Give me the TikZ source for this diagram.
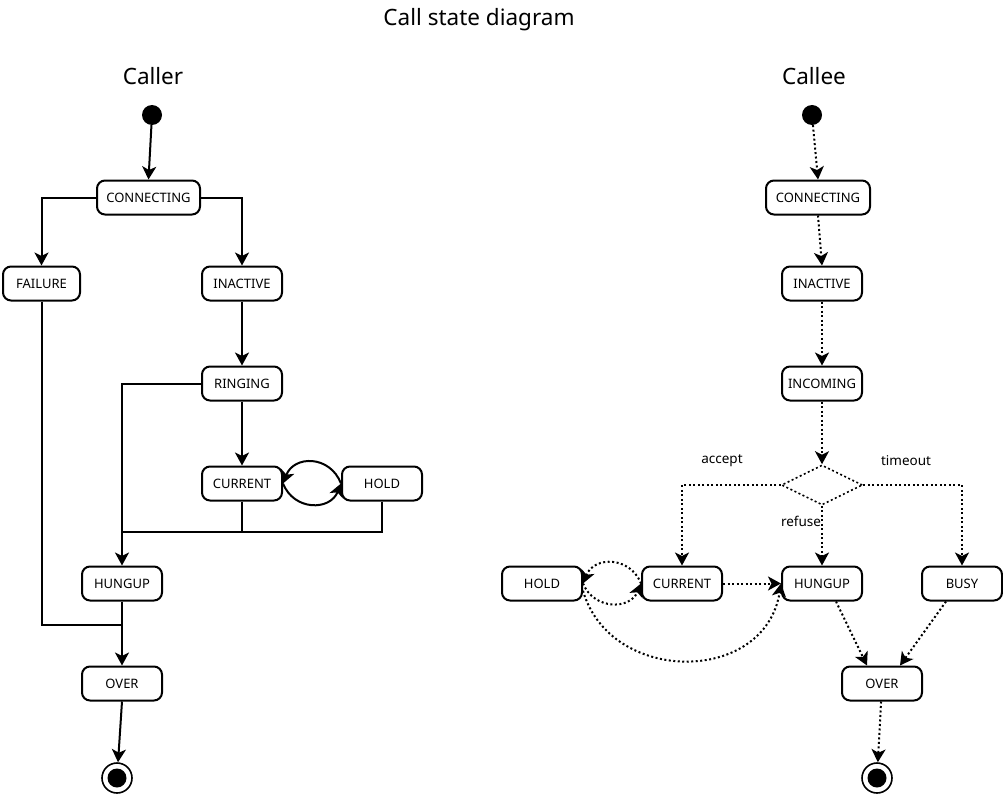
\documentclass[tikz,border=0pt]{standalone}
\usepackage{fontspec}
\setmainfont{Noto Sans}
\usetikzlibrary{arrows.meta,shapes.geometric,calc}
\begin{document}
\begin{tikzpicture}[x=1pt,y=-1pt,
  state/.style={draw, line width=2pt, rounded corners=8pt, minimum width=80pt, minimum height=34pt, inner sep=0pt, font=\fontsize{13}{15}\selectfont},
  startdot/.style={circle, fill=black, minimum size=20pt, inner sep=0pt},
  endring/.style={circle, draw, line width=1.6pt, minimum size=30pt, inner sep=0pt},
  enddot/.style={circle, fill=black, minimum size=19pt, inner sep=0pt},
  line/.style={line width=2pt},
  edge/.style={line width=2pt, -{Stealth[length=13pt,width=14pt,inset=3.5pt]}},
  dotline/.style={line width=2pt, dash pattern=on 2pt off 2.5pt},
  dedge/.style={dotline, -{Stealth[length=13pt,width=14pt,inset=3.5pt]}},
  lbl/.style={font=\fontsize{13.5}{15}\selectfont, inner sep=0pt},
  head/.style={anchor=base, inner sep=0pt}
]
\useasboundingbox (0,0) rectangle (1003,797);
\node[head, font=\fontsize{22.5}{26}\selectfont] (title) at (479,26) {Call state diagram};
\node[head, font=\fontsize{22.5}{26}\selectfont] (caller) at (153,85) {Caller};
\node[head, font=\fontsize{22.5}{26}\selectfont] (callee) at (814,85) {Callee};

% Caller
\node[startdot] (init1) at (152,115) {};
\node[state, minimum width=103pt] (conn1) at (148.5,197.5) {CONNECTING};
\node[state, minimum width=77pt] (fail1) at (41.5,283.5) {FAILURE};
\node[state] (inact1) at (242,283.5) {INACTIVE};
\node[state] (ring1) at (242,383.5) {RINGING};
\node[state] (cur1) at (242,483.5) {CURRENT};
\node[state] (hold1) at (382,483.5) {HOLD};
\node[state] (hung1) at (122,583.5) {HUNGUP};
\node[state] (over1) at (122,683.5) {OVER};
\node[endring] (fin1) at (117,778) {};
\node[enddot] (fin1in) at (fin1) {};

\draw[edge] (init1) -- (conn1.north);
\draw[edge] (conn1.west) -| (fail1.north);
\draw[edge] (conn1.east) -| (inact1.north);
\draw[edge] (inact1) -- (ring1);
\draw[edge] (ring1) -- (cur1);
\draw[edge] (ring1.west) -| (hung1.north);
\draw[edge] (hold1.west) .. controls (330,455) and (294,455) .. (cur1.east);
\draw[edge] (cur1.east) .. controls (294,511) and (330,511) .. (hold1.west);
\coordinate (j1) at (122,532);
\draw[line] (cur1.south) |- (j1);
\draw[line] (hold1.south) |- (cur1.south |- j1);
\coordinate (j2) at (122,625);
\draw[line] (fail1.south) |- (j2);
\draw[edge] (hung1) -- (over1);
\draw[edge] (over1.south) -- (fin1);

% Callee
\node[startdot] (init2) at (812,115) {};
\node[state, minimum width=104pt] (conn2) at (818,197.5) {CONNECTING};
\node[state] (inact2) at (822,283.5) {INACTIVE};
\node[state] (inc2) at (822,383.5) {INCOMING};
\node[diamond, draw, dotline, line width=1.6pt, minimum width=81pt, minimum height=40pt, inner sep=0pt] (dec) at (822,485) {};
\node[state] (hold2) at (542,583.5) {HOLD};
\node[state] (cur2) at (682,583.5) {CURRENT};
\node[state] (hung2) at (822,583.5) {HUNGUP};
\node[state] (busy2) at (962,583.5) {BUSY};
\node[state] (over2) at (882,683.5) {OVER};
\node[endring] (fin2) at (877,778) {};
\node[enddot] (fin2in) at (fin2) {};

\node[lbl] (lacc) at (722,461) {accept};
\node[lbl] (ltim) at (906,461) {timeout};
\node[lbl] (lref) at (801,521) {refuse};

\draw[dedge] (init2) -- (conn2.north);
\draw[dedge] (conn2.south) -- (inact2.north);
\draw[dedge] (inact2) -- (inc2);
\draw[dedge] (inc2) -- (dec.north);
\draw[dedge] (dec.west) -| (cur2.north);
\draw[dedge] (dec.east) -| (busy2.north);
\draw[dedge] (dec.south) -- (hung2.north);
\draw[dedge] (cur2) -- (hung2);
\draw[dedge] (cur2.west) .. controls (630,556) and (594,556) .. (hold2.east);
\draw[dedge] (hold2.east) .. controls (594,610) and (630,610) .. (cur2.west);
\draw[dedge] (hold2.-10) .. controls (610,685) and (765,685) .. (hung2.west);
\draw[dedge] ($(hung2.south)+(14,0)$) -- ($(over2.north)+(-15,0)$);
\draw[dedge] ($(busy2.south)+(-16,0)$) -- ($(over2.north)+(18,0)$);
\draw[dedge] (over2) -- (fin2);
\end{tikzpicture}
\end{document}
